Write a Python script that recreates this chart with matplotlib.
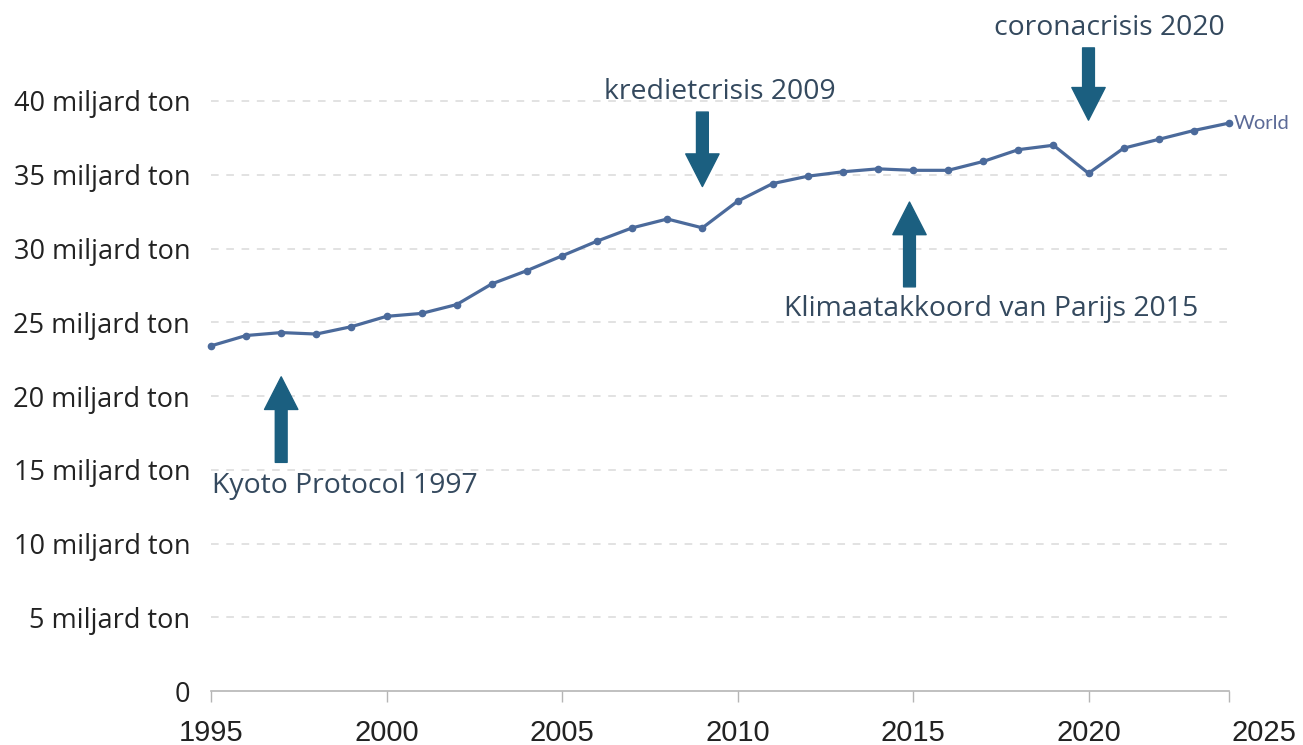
import matplotlib
matplotlib.use("Agg")
import matplotlib.pyplot as plt

years = list(range(1995, 2025))
emissions = [23.4, 24.1, 24.3, 24.2, 24.7, 25.4, 25.6, 26.2, 27.6, 28.5,
             29.5, 30.5, 31.4, 32.0, 31.4, 33.2, 34.4, 34.9, 35.2, 35.4,
             35.3, 35.3, 35.9, 36.7, 37.0, 35.1, 36.8, 37.4, 38.0, 38.5]
series_label = "World"

ytick_values = [0, 5, 10, 15, 20, 25, 30, 35, 40]
ytick_labels = ["0"] + [f"{v} miljard ton" for v in ytick_values[1:]]
xtick_values = [1995, 2000, 2005, 2010, 2015, 2020, 2025]

# (text, arrow x, arrow tail y, arrow tip y, text x, text y)
events = [
    ("Kyoto Protocol 1997", 1997.0, 15.5, 21.3, 1998.8, 13.42),
    ("kredietcrisis 2009", 2009.0, 39.25, 34.2, 2009.5, 40.15),
    ("Klimaatakkoord van Parijs 2015", 2014.9, 27.4, 33.15, 2017.22, 25.45),
    ("coronacrisis 2020", 2020.0, 43.6, 38.7, 2020.6, 44.5),
]

W, H = 1303, 745
fig = plt.figure(figsize=(W / 100, H / 100), dpi=100)
x0px, x1px = 211, 1264   # 1995, 2025
y0px, y40px = 691, 101   # 0, 40 (from top)
ppu = (y0px - y40px) / 40.0
ymax = 45
ax = fig.add_axes([x0px / W, (H - y0px) / H, (x1px - x0px) / W, ymax * ppu / H])
ax.set_xlim(1995, 2025)
ax.set_ylim(0, ymax)

for s in ["top", "right", "left"]:
    ax.spines[s].set_visible(False)
ax.spines["bottom"].set_bounds(1995, 2024)
ax.spines["bottom"].set_color("#b5b5b5")
ax.spines["bottom"].set_linewidth(1.2)

# gridlines
ax.hlines(ytick_values[1:], 1995, 2024, colors="#dadada", linestyles=(0, (5, 5)),
          linewidth=1.1, zorder=1)

ax.plot(years, emissions, color="#4b6a9b", linewidth=2.3, marker="o",
        markersize=4.5, zorder=3, clip_on=False)
ax.text(years[-1] + 0.15, emissions[-1], series_label, color="#5b6a97",
        fontsize=14.5, family="Lato", va="center", ha="left")

ax.set_yticks(ytick_values)
ax.set_yticklabels(ytick_labels, family="Open Sans", fontsize=19.5, color="#222222")
ax.tick_params(axis="y", length=0, pad=15)

ax.set_xticks(xtick_values)
ax.set_xticklabels([str(v) for v in xtick_values], family="Liberation Sans",
                   fontsize=21, color="#222222")
ax.tick_params(axis="x", length=8, width=1, color="#b5b5b5", pad=12)
ax.set_xticks([2024], minor=True)
ax.tick_params(axis="x", which="minor", length=8, width=1, color="#b5b5b5")
# hide the tick mark at 2025 (beyond axis end)
ax.xaxis.get_major_ticks()[-1].tick1line.set_visible(False)

arrow_color = "#1b5f80"
text_color = "#34495e"
for txt, ax_x, y_tail, y_tip, tx, ty in events:
    ax.annotate("", xy=(ax_x, y_tip), xytext=(ax_x, y_tail),
                arrowprops=dict(arrowstyle="simple,head_length=2.35,head_width=2.4,tail_width=0.85",
                                color=arrow_color, shrinkA=0, shrinkB=0, mutation_scale=10),
                annotation_clip=False)
    ax.text(tx, ty, txt, color=text_color, fontsize=20.4, family="Open Sans",
            ha="center", va="baseline", clip_on=False)

fig.savefig("out.png", dpi=100)
